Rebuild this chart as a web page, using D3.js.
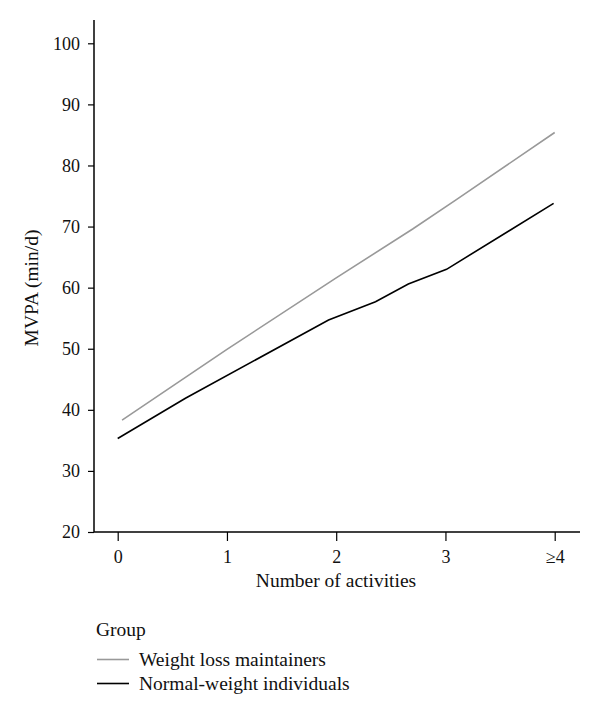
<!DOCTYPE html>
<html>
<head>
<meta charset="utf-8">
<script src="https://cdn.jsdelivr.net/npm/d3@7"></script>
<style>
  html, body { margin: 0; padding: 0; background: #fff; }
  svg { display: block; }
  text { font-family: "Liberation Serif", "DejaVu Serif", serif; fill: #111; }
</style>
</head>
<body>
<svg id="chart" width="600" height="715"></svg>
<script>
// ---- data ----
const xTickValues = [0, 1, 2, 3, 4];
const xTickLabels = ["0", "1", "2", "3", "\u22654"];
const yTickValues = [20, 30, 40, 50, 60, 70, 80, 90, 100];
const seriesNames = ["Weight loss maintainers", "Normal-weight individuals"];
const seriesColors = ["#999999", "#000000"];
const maintainersX = [0.04, 1.0, 2.0, 2.7, 3.1, 4.0];
const maintainersY = [38.3, 49.9, 61.6, 69.6, 74.4, 85.4];
const normalX = [0.0, 0.62, 1.93, 2.36, 2.66, 3.01, 3.99];
const normalY = [35.3, 41.9, 54.7, 57.7, 60.6, 63.0, 73.8];
const xTitle = "Number of activities";
const yTitle = "MVPA (min/d)";
const legendTitle = "Group";

// ---- layout ----
const svg = d3.select("#chart");
const x = d3.scaleLinear().domain([0, 4]).range([117.7, 554.7]);
const y = d3.scaleLinear().domain([20, 100]).range([532, 43.3]);

// axes lines
svg.append("line").attr("x1", 94).attr("x2", 94).attr("y1", 20).attr("y2", 532)
  .attr("stroke", "#000").attr("stroke-width", 1.5);
svg.append("line").attr("x1", 94).attr("x2", 580).attr("y1", 532).attr("y2", 532)
  .attr("stroke", "#000").attr("stroke-width", 1.5);

// y axis
const yAxis = d3.axisLeft(y).tickValues(yTickValues).tickSize(6).tickPadding(8);
const gy = svg.append("g").attr("transform", "translate(94,0)").call(yAxis);
gy.select(".domain").remove();
gy.selectAll(".tick line").attr("stroke", "#000").attr("stroke-width", 1.2);
gy.selectAll(".tick text").attr("font-size", 18).attr("font-family", "Liberation Serif").attr("fill", "#111");

// x axis
const xAxis = d3.axisBottom(x).tickValues(xTickValues).tickFormat((d, i) => xTickLabels[i]).tickSize(9).tickPadding(9);
const gx = svg.append("g").attr("transform", "translate(0,532)").call(xAxis);
gx.select(".domain").remove();
gx.selectAll(".tick line").attr("stroke", "#000").attr("stroke-width", 1.2);
gx.selectAll(".tick text").attr("font-size", 18).attr("font-family", "Liberation Serif").attr("fill", "#111");

// titles
svg.append("text").attr("x", 336).attr("y", 587).attr("text-anchor", "middle")
  .attr("font-size", 19.5).text(xTitle);
svg.append("text").attr("transform", "translate(38,288) rotate(-90)").attr("text-anchor", "middle")
  .attr("font-size", 19.5).text(yTitle);

// lines
const line = d3.line().x(d => x(d[0])).y(d => y(d[1]));
const seriesData = [
  d3.zip(maintainersX, maintainersY),
  d3.zip(normalX, normalY)
];
seriesData.forEach((pts, i) => {
  svg.append("path").datum(pts).attr("d", line)
    .attr("fill", "none").attr("stroke", seriesColors[i]).attr("stroke-width", 1.6);
});

// legend
svg.append("text").attr("x", 96).attr("y", 636).attr("font-size", 19.5).text(legendTitle);
seriesNames.forEach((name, i) => {
  const yy = 659.5 + i * 24;
  svg.append("line").attr("x1", 97).attr("x2", 129).attr("y1", yy).attr("y2", yy)
    .attr("stroke", seriesColors[i]).attr("stroke-width", 1.6);
  svg.append("text").attr("x", 139).attr("y", yy + 6).attr("font-size", 19.5).text(name);
});
</script>
</body>
</html>
